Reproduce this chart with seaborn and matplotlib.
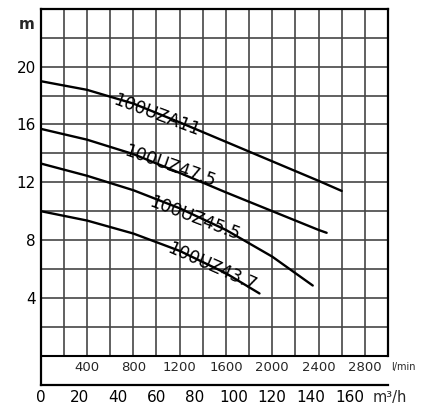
import matplotlib
matplotlib.use("Agg")
import matplotlib.pyplot as plt
import pandas as pd
import seaborn as sns

# ---- data (flow in l/min, head in m) ----
models = ["100UZA11", "100UZ47.5", "100UZ45.5", "100UZ43.7"]
q_a = [0, 400, 800, 1200, 1600, 2000, 2400, 2600]
h_a = [19.0, 18.4, 17.45, 16.15, 14.8, 13.45, 12.1, 11.4]
q_b = [0, 400, 800, 1200, 1600, 2000, 2400, 2470]
h_b = [15.7, 14.95, 13.95, 12.65, 11.3, 10.0, 8.7, 8.5]
q_c = [0, 400, 800, 1200, 1600, 2000, 2350]
h_c = [13.3, 12.45, 11.45, 10.2, 8.7, 6.85, 4.85]
q_d = [0, 400, 800, 1200, 1600, 1890]
h_d = [10.0, 9.35, 8.45, 7.25, 5.7, 4.3]

lmin_ticks = [400, 800, 1200, 1600, 2000, 2400, 2800]
m3h_ticks = [0, 20, 40, 60, 80, 100, 120, 140, 160]
head_ticks = [4, 8, 12, 16, 20]

frames = []
for name, q, h in zip(models, [q_a, q_b, q_c, q_d], [h_a, h_b, h_c, h_d]):
    frames.append(pd.DataFrame({"model": name, "Q": q, "H": h}))
df = pd.concat(frames, ignore_index=True)

sns.set_style("white")
plt.rcParams["font.family"] = ["DejaVu Sans"]

fig = plt.figure(figsize=(4.36, 4.07), dpi=100)
ax = fig.add_axes([0.0933, 0.054, 0.7966, 0.924])

XMAX, YMAX, YMIN = 3000, 24, -2.04
ax.set_xlim(0, XMAX)
ax.set_ylim(YMIN, YMAX)

# grid
grid_c = "#454545"
ax.vlines(range(200, XMAX, 200), 0, YMAX, color=grid_c, lw=1.2, zorder=1)
ax.hlines(range(2, YMAX, 2), 0, XMAX, color=grid_c, lw=1.2, zorder=1)
ax.hlines(0, 0, XMAX, color="black", lw=1.5, zorder=1)

for s in ["left", "top", "bottom", "right"]:
    ax.spines[s].set_color("black")
    ax.spines[s].set_linewidth(1.6)
    ax.spines[s].set_visible(True)
ax.spines["right"].set_bounds(0, YMAX)

# curves
for name in models:
    sns.lineplot(data=df[df["model"] == name], x="Q", y="H", ax=ax,
                 color="black", lw=1.7, estimator=None, sort=False,
                 legend=False, zorder=3)
ax.set_xlabel("")
ax.set_ylabel("")

# curve labels
label_pos = [(620, 17.4, -20.5), (711, 13.9, -19.5), (926, 10.35, -21.0), (1082, 7.2, -24.0)]
for name, (x, y, r) in zip(models, label_pos):
    ax.text(x, y, name, rotation=r, rotation_mode="anchor", ha="left",
            va="baseline", fontsize=12.5, color="black", zorder=4)

# y ticks
ax.set_yticks(head_ticks)
ax.set_yticklabels([str(v) for v in head_ticks], fontsize=11)
ax.text(-118, 22.9, "m", ha="center", va="center", fontsize=11,
        fontweight="bold", clip_on=False)

# m3/h ticks on bottom axis
ax.set_xticks([v * 1000 / 60 for v in m3h_ticks])
ax.set_xticklabels([str(v) for v in m3h_ticks], fontsize=11)
ax.tick_params(axis="both", length=0, colors="black")
ax.tick_params(axis="x", pad=3.5)
ax.tick_params(axis="y", pad=3.5)
ax.text(3016, -2.87, "m³/h", ha="center", va="center", fontsize=10.5,
        clip_on=False)

# l/min labels inside the band
for v in lmin_ticks:
    ax.text(v, -0.8, str(v), ha="center", va="center", fontsize=9.5)
ax.text(3130, -0.8, "l/min", ha="center", va="center", fontsize=7,
        clip_on=False)

fig.savefig("out.png", dpi=100, facecolor="white")
